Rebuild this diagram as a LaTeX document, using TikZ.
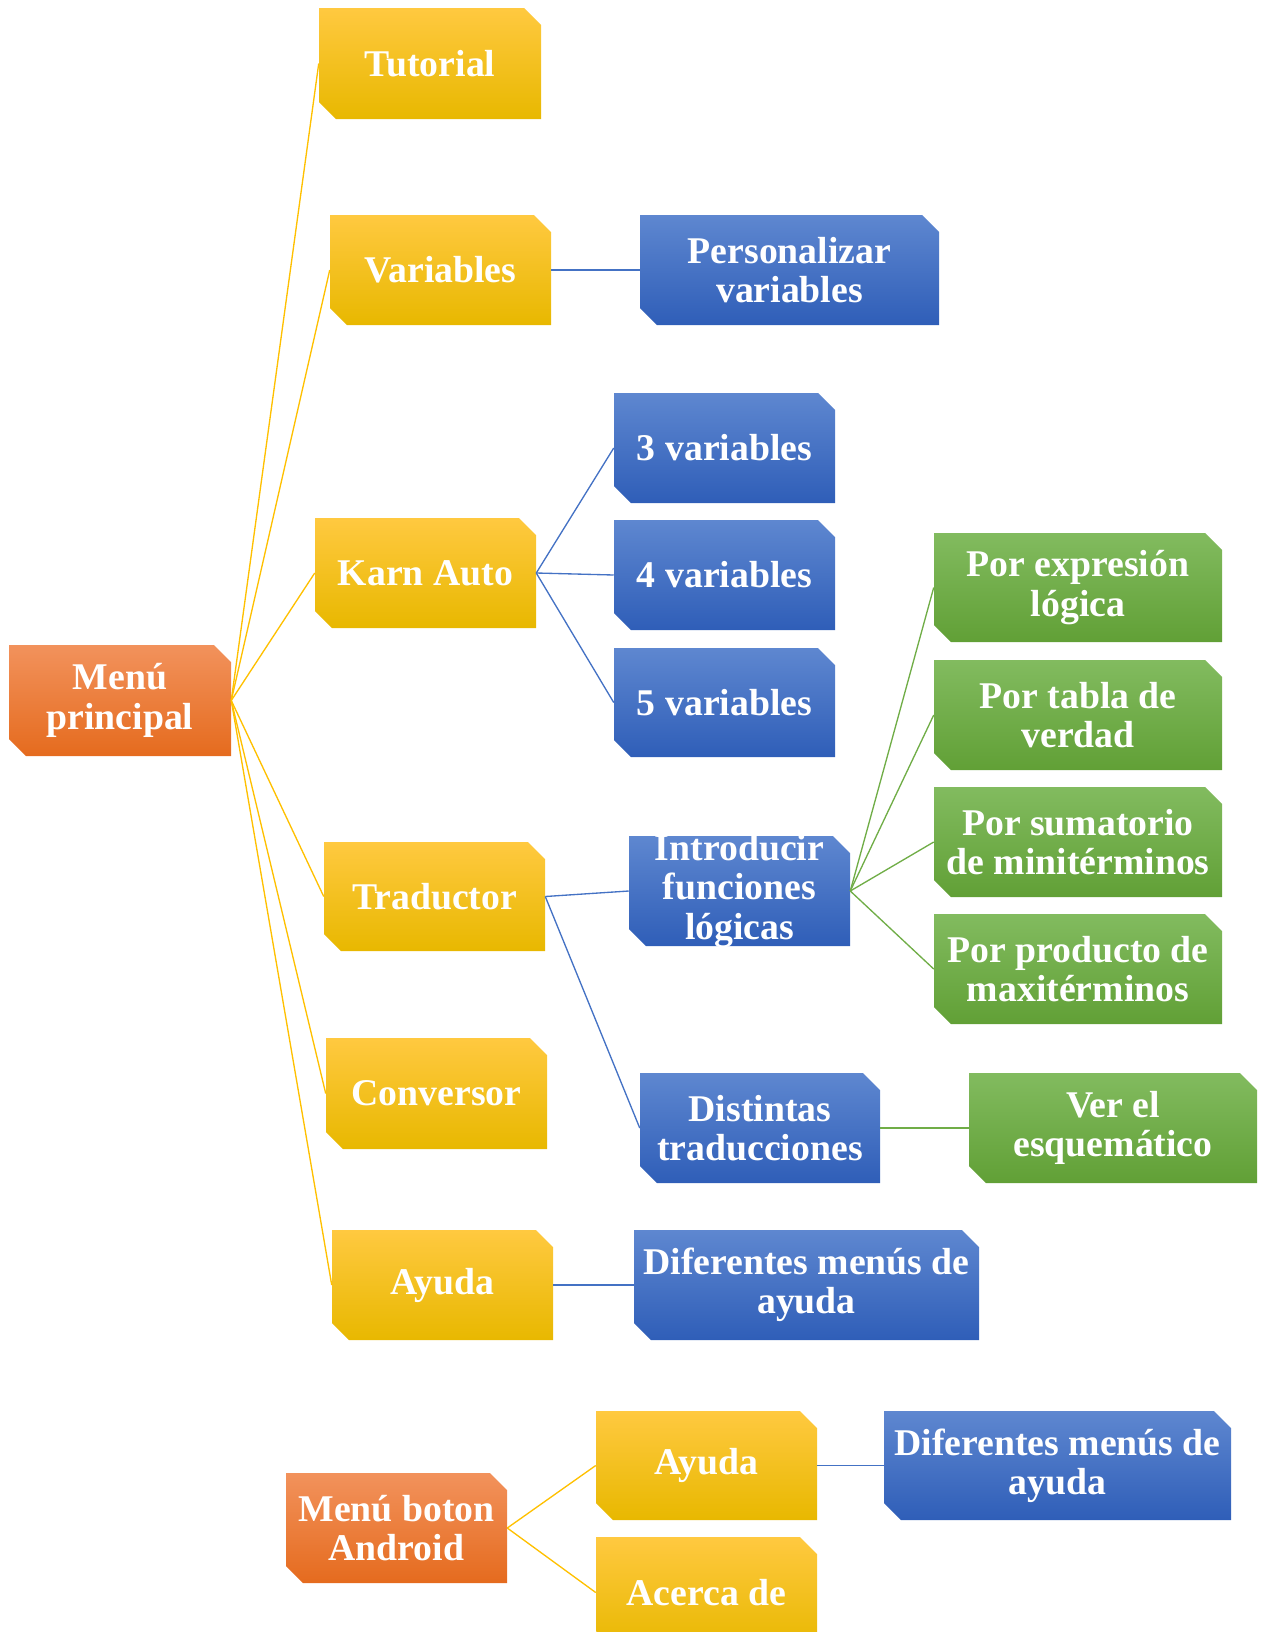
\documentclass[tikz,border=0pt]{standalone}
\usepackage{fontspec}
\setmainfont{Liberation Serif}
\definecolor{orgT}{HTML}{F2925C}
\definecolor{orgM}{HTML}{F27B2E}
\definecolor{orgB}{HTML}{E56B1E}
\definecolor{yelT}{HTML}{FFC940}
\definecolor{yelM}{HTML}{FFC000}
\definecolor{yelB}{HTML}{E8B800}
\definecolor{bluT}{HTML}{5E87D0}
\definecolor{bluM}{HTML}{4370C6}
\definecolor{bluB}{HTML}{2F5EB8}
\definecolor{grnT}{HTML}{82BB5F}
\definecolor{grnM}{HTML}{6FAC46}
\definecolor{grnB}{HTML}{61A036}
\definecolor{yline}{HTML}{FFC000}
\definecolor{bline}{HTML}{4472C4}
\definecolor{gline}{HTML}{70AD47}
\tikzset{
  orgfill/.style={top color=orgT, middle color=orgM, bottom color=orgB},
  yelfill/.style={top color=yelT, middle color=yelM, bottom color=yelB},
  blufill/.style={top color=bluT, middle color=bluM, bottom color=bluB},
  grnfill/.style={top color=grnT, middle color=grnM, bottom color=grnB},
  boxtext/.style={inner sep=0pt, align=center, text=white,
    font=\fontsize{28.3pt}{29.5pt}\selectfont\bfseries},
  ylink/.style={draw=yline, line width=1pt},
  blink/.style={draw=bline, line width=1pt},
  glink/.style={draw=gline, line width=1pt},
}
% snipped box: name, fill style, x1, y1, x2, y2, text
\newcommand\snipbox[7]{%
  \shade[#2] (#3,#4) -- ({#5-17},#4) -- (#5,{#4+17}) -- (#5,#6) -- ({#3+17},#6) -- (#3,{#6-17}) -- cycle;
  \pgfmathsetmacro\sbw{(#5-#3)*0.75}%
  \pgfmathsetmacro\sbh{(#6-#4)*0.75}%
  \node[boxtext, minimum width=\sbw pt, minimum height=\sbh pt] (#1) at ({(#3+#5)/2},{(#4+#6)/2}) {#7};}
\begin{document}
\begin{tikzpicture}[x=0.75pt,y=-0.75pt]
\useasboundingbox (0,0) rectangle (1261,1632);
\clip (0,0) rectangle (1261,1632);
% main menu and first level
\snipbox{main}{orgfill}{9}{645}{231}{756}{Menú\\principal}
\snipbox{tut}{yelfill}{319}{8}{541}{119}{Tutorial}
\snipbox{var}{yelfill}{330}{215}{551}{325}{Variables}
\snipbox{karn}{yelfill}{315}{518}{536}{628}{Karn Auto}
\snipbox{trad}{yelfill}{324}{842}{545}{951}{Traductor}
\snipbox{conv}{yelfill}{326}{1038}{547}{1149}{Conversor}
\snipbox{ayu}{yelfill}{332}{1230}{553}{1340}{Ayuda}
% second level
\snipbox{pers}{blufill}{640}{215}{939}{325}{Personalizar\\variables}
\snipbox{v3}{blufill}{614}{393}{835}{503}{3 variables}
\snipbox{v4}{blufill}{614}{520}{835}{630}{4 variables}
\snipbox{v5}{blufill}{614}{648}{835}{757}{5 variables}
\snipbox{intro}{blufill}{629}{836}{850}{946}{Introducir\\funciones\\lógicas}
\snipbox{dist}{blufill}{640}{1073}{880}{1183}{Distintas\\traducciones}
\snipbox{dif}{blufill}{634}{1230}{979}{1340}{Diferentes menús de\\ayuda}
% third level
\snipbox{pexp}{grnfill}{934}{533}{1222}{642}{Por expresión\\lógica}
\snipbox{ptab}{grnfill}{934}{660}{1222}{770}{Por tabla de\\verdad}
\snipbox{psum}{grnfill}{934}{787}{1222}{897}{Por sumatorio\\de minitérminos}
\snipbox{pprod}{grnfill}{934}{914}{1222}{1024}{Por producto de\\maxitérminos}
\snipbox{esq}{grnfill}{969}{1073}{1257}{1183}{Ver el\\esquemático}
% Android button menu
\snipbox{andr}{orgfill}{286}{1473}{507}{1583}{Menú boton\\Android}
\snipbox{ayu2}{yelfill}{596}{1411}{817}{1520}{Ayuda}
\snipbox{acer}{yelfill}{596}{1537}{817}{1648}{Acerca de}
\snipbox{dif2}{blufill}{884}{1411}{1231}{1520}{Diferentes menús de\\ayuda}
% connectors
\foreach \t in {tut,var,karn,trad,conv,ayu}
  \draw[ylink] (main.east) -- (\t.west);
\draw[blink] (var.east) -- (pers.west);
\foreach \t in {v3,v4,v5}
  \draw[blink] (karn.east) -- (\t.west);
\draw[blink] (trad.east) -- (intro.west);
\draw[blink] (trad.east) -- (dist.west);
\draw[blink] (ayu.east) -- (dif.west);
\foreach \t in {pexp,ptab,psum,pprod}
  \draw[glink] (intro.east) -- (\t.west);
\draw[glink] (dist.east) -- (esq.west);
\draw[ylink] (andr.east) -- (ayu2.west);
\draw[ylink] (andr.east) -- (acer.west);
\draw[blink] (ayu2.east) -- (dif2.west);
\end{tikzpicture}
\end{document}
